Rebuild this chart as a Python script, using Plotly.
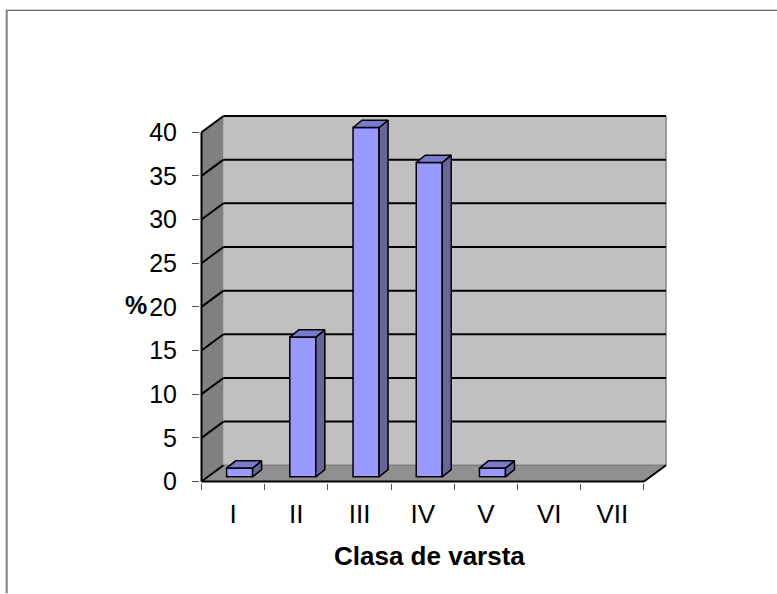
import plotly.graph_objects as go

categories = ["I", "II", "III", "IV", "V", "VI", "VII"]
values = [1, 16, 40, 36, 1, 0, 0]
y_ticks = [0, 5, 10, 15, 20, 25, 30, 35, 40]

# Oblique-projection depth, in axis units (x: one category, y: one percent)
WALL_DX, WALL_DY = 22 / 63.2, 16.3 / 8.775
BAR_SHIFT_X, BAR_SHIFT_Y = 6.5 / 63.2, 4.7 / 8.775
BAR_W = 26 / 63.2
BAR_DX, BAR_DY = 9 / 63.2, 7.3 / 8.775

BAR_FRONT, BAR_SIDE, BAR_TOP = "#9999FF", "#666699", "#7A7ACC"
n = len(categories)

W, H = 777, 594
M_L, M_R, M_T, M_B = 200.2, W - 668, 113.5, H - 483.5


def px_x(px):
    return (px - M_L) / (W - M_L - M_R)


def px_y(px):
    return 1 - (px - M_T) / (H - M_T - M_B)


def poly(points):
    head = points[0]
    body = " ".join(f"L{x},{y}" for x, y in points[1:])
    return f"M{head[0]},{head[1]} {body} Z"


def line(x0, y0, x1, y1, color="black", width=2):
    return dict(type="line", xref="x", yref="y", layer="below", x0=x0, y0=y0, x1=x1, y1=y1,
                line=dict(color=color, width=width))


top = y_ticks[-1]
shapes = [
    dict(type="path", xref="x", yref="y", layer="below", line_width=0, fillcolor="#C0C0C0",
         path=poly([(WALL_DX, WALL_DY), (n + WALL_DX, WALL_DY), (n + WALL_DX, top + WALL_DY), (WALL_DX, top + WALL_DY)])),
    dict(type="path", xref="x", yref="y", layer="below", line_width=0, fillcolor="#808080",
         path=poly([(0, 0), (WALL_DX, WALL_DY), (WALL_DX, top + WALL_DY), (0, top)])),
    dict(type="path", xref="x", yref="y", layer="below", line_width=0, fillcolor="#909090",
         path=poly([(0, 0), (n, 0), (n + WALL_DX, WALL_DY), (WALL_DX, WALL_DY)])),
    line(n + WALL_DX, WALL_DY, n + WALL_DX, top + WALL_DY, "#808080", 1.5),
    line(WALL_DX, WALL_DY, n + WALL_DX, WALL_DY, "#808080", 1.5),
]
for v in y_ticks[1:]:
    shapes.append(line(WALL_DX, v + WALL_DY, n + WALL_DX, v + WALL_DY))
for v in y_ticks:
    shapes.append(line(0, v, WALL_DX, v + WALL_DY))
shapes += [
    line(0, 0, 0, top),
    line(0, 0, n, 0),
    line(n, 0, n + WALL_DX, WALL_DY),
    dict(type="line", xref="paper", yref="paper", x0=px_x(6), x1=px_x(W), y0=px_y(9.5), y1=px_y(9.5),
         line=dict(color="#404040", width=1), layer="above"),
    dict(type="line", xref="paper", yref="paper", x0=px_x(7), x1=px_x(7), y0=px_y(H), y1=px_y(9.5),
         line=dict(color="#808080", width=2), layer="above"),
]

fig = go.Figure()
centers = [i + 0.5 + BAR_SHIFT_X for i in range(n)]
shown = [i for i, v in enumerate(values) if v > 0]

fig.add_trace(go.Bar(
    x=[centers[i] for i in shown], y=[values[i] for i in shown],
    base=[BAR_SHIFT_Y] * len(shown), width=BAR_W,
    marker=dict(color=BAR_FRONT, line=dict(color="black", width=1.5)),
    showlegend=False, hoverinfo="skip",
))
for i in shown:
    xl, xr = centers[i] - BAR_W / 2, centers[i] + BAR_W / 2
    yb, yt = BAR_SHIFT_Y, values[i] + BAR_SHIFT_Y
    fig.add_trace(go.Scatter(
        x=[xr, xr + BAR_DX, xr + BAR_DX, xr, xr], y=[yb, yb + BAR_DY, yt + BAR_DY, yt, yb],
        mode="lines", fill="toself", fillcolor=BAR_SIDE, line=dict(color="black", width=1.5),
        showlegend=False, hoverinfo="skip"))
    fig.add_trace(go.Scatter(
        x=[xl, xl + BAR_DX, xr + BAR_DX, xr, xl], y=[yt, yt + BAR_DY, yt + BAR_DY, yt, yt],
        mode="lines", fill="toself", fillcolor=BAR_TOP, line=dict(color="black", width=1.5),
        showlegend=False, hoverinfo="skip"))

PAD_X, PAD_Y = 1.5 / 63.2, 1.5 / 8.775
fig.update_layout(
    width=W, height=H, autosize=False,
    paper_bgcolor="white", plot_bgcolor="white",
    margin=dict(l=M_L, r=M_R, t=M_T, b=M_B, pad=0),
    showlegend=False, shapes=shapes,
    font=dict(family="Liberation Sans", color="black"),
    xaxis=dict(
        range=[-PAD_X, n + WALL_DX + 2 / 63.2],
        tickmode="array", tickvals=[i + 0.5 for i in range(n)], ticktext=categories,
        ticks="", showgrid=False, zeroline=False, showline=False,
        tickfont=dict(size=26, family="Liberation Sans", color="black"),
        ticklabelstandoff=13,
        minor=dict(tickmode="array", tickvals=list(range(n + 1)), ticks="outside", ticklen=6,
                   tickwidth=1, tickcolor="#505050", showgrid=False),
    ),
    yaxis=dict(
        range=[-PAD_Y, top + WALL_DY + 2 / 8.775],
        tickmode="array", tickvals=y_ticks, ticks="outside", ticklen=7, tickwidth=1, tickcolor="#505050",
        showgrid=False, zeroline=False, showline=False,
        tickfont=dict(size=25, family="Liberation Sans", color="black"),
        ticklabelstandoff=10,
    ),
    annotations=[
        dict(text="<b>Clasa de varsta</b>", xref="paper", yref="paper", x=px_x(430), y=px_y(557),
             xanchor="center", yanchor="middle",
             showarrow=False, font=dict(size=26, family="Liberation Sans", color="black")),
        dict(text="<b>%</b>", xref="paper", yref="paper", x=px_x(136), y=px_y(305),
             xanchor="center", yanchor="middle",
             showarrow=False, font=dict(size=25, family="Liberation Sans", color="black")),
    ],
)

fig.write_html("out.html", config=dict(displayModeBar=False),
               post_script="document.body.style.margin='0';document.body.style.overflow='hidden';")
